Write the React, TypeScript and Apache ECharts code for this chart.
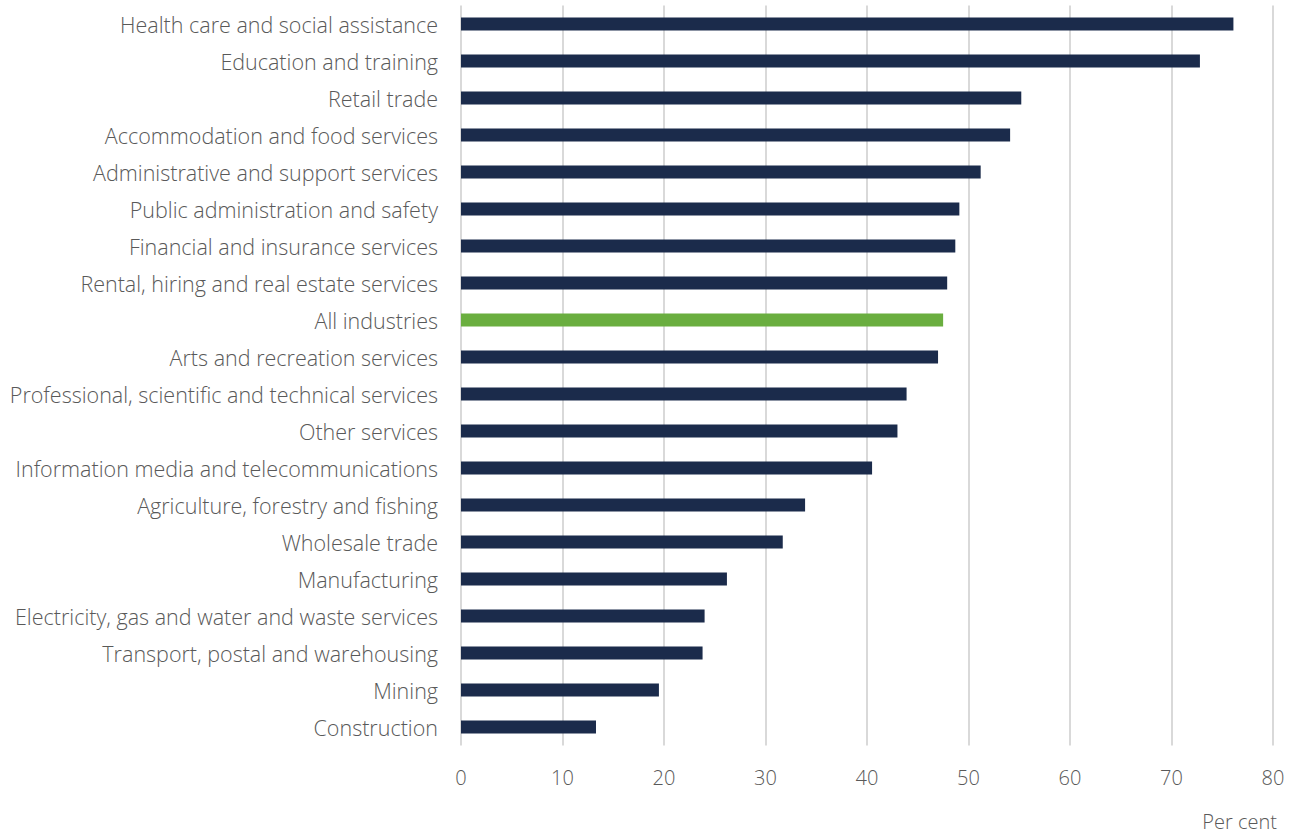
import React, { useEffect, useRef } from "react";
import * as echarts from "echarts";

const categories = [
  "Health care and social assistance",
  "Education and training",
  "Retail trade",
  "Accommodation and food services",
  "Administrative and support services",
  "Public administration and safety",
  "Financial and insurance services",
  "Rental, hiring and real estate services",
  "All industries",
  "Arts and recreation services",
  "Professional, scientific and technical services",
  "Other services",
  "Information media and telecommunications",
  "Agriculture, forestry and fishing",
  "Wholesale trade",
  "Manufacturing",
  "Electricity, gas and water and waste services",
  "Transport, postal and warehousing",
  "Mining",
  "Construction",
];

const values = [
  76.1, 72.8, 55.2, 54.1, 51.2, 49.1, 48.7, 47.9, 47.5, 47.0, 43.9, 43.0,
  40.5, 33.9, 31.7, 26.2, 24.0, 23.8, 19.5, 13.3,
];

const highlight = "All industries";
const axisTitle = "Per cent";

export default function App() {
  const ref = useRef<HTMLDivElement>(null);
  useEffect(() => {
    if (!ref.current) return;
    const chart = echarts.init(ref.current, undefined, { renderer: "svg" });
    const font = "'Open Sans', 'Segoe UI', sans-serif";
    chart.setOption({
      animation: false,
      grid: { left: 461, top: 5.5, width: 812, height: 740, containLabel: false },
      xAxis: {
        type: "value",
        min: 0,
        max: 80,
        interval: 10,
        axisLine: { show: false },
        axisTick: { show: false },
        splitLine: { show: true, lineStyle: { color: "#d9d9d9", width: 2 } },
        axisLabel: {
          color: "#595959",
          fontSize: 20,
          fontFamily: font,
          fontWeight: 300,
          margin: 22,
        },
      },
      yAxis: {
        type: "category",
        inverse: true,
        data: categories,
        axisLine: { show: false },
        axisTick: { show: false },
        axisLabel: {
          color: "#595959",
          fontSize: 21.5,
          fontFamily: font,
          fontWeight: 300,
          margin: 23,
        },
      },
      series: [
        {
          type: "bar",
          barWidth: 13,
          data: values.map((v, i) => ({
            value: v,
            itemStyle: {
              color: categories[i] === highlight ? "#6aae3f" : "#1b2b4b",
            },
          })),
        },
      ],
      graphic: [
        {
          type: "text",
          right: 20,
          top: 811,
          style: {
            text: axisTitle,
            fill: "#595959",
            fontSize: 20,
            fontFamily: font,
            fontWeight: 300,
          },
        },
      ],
    });
    return () => chart.dispose();
  }, []);
  return (
    <div
      ref={ref}
      style={{ position: "absolute", left: 0, top: 0, width: 1297, height: 834 }}
    />
  );
}
